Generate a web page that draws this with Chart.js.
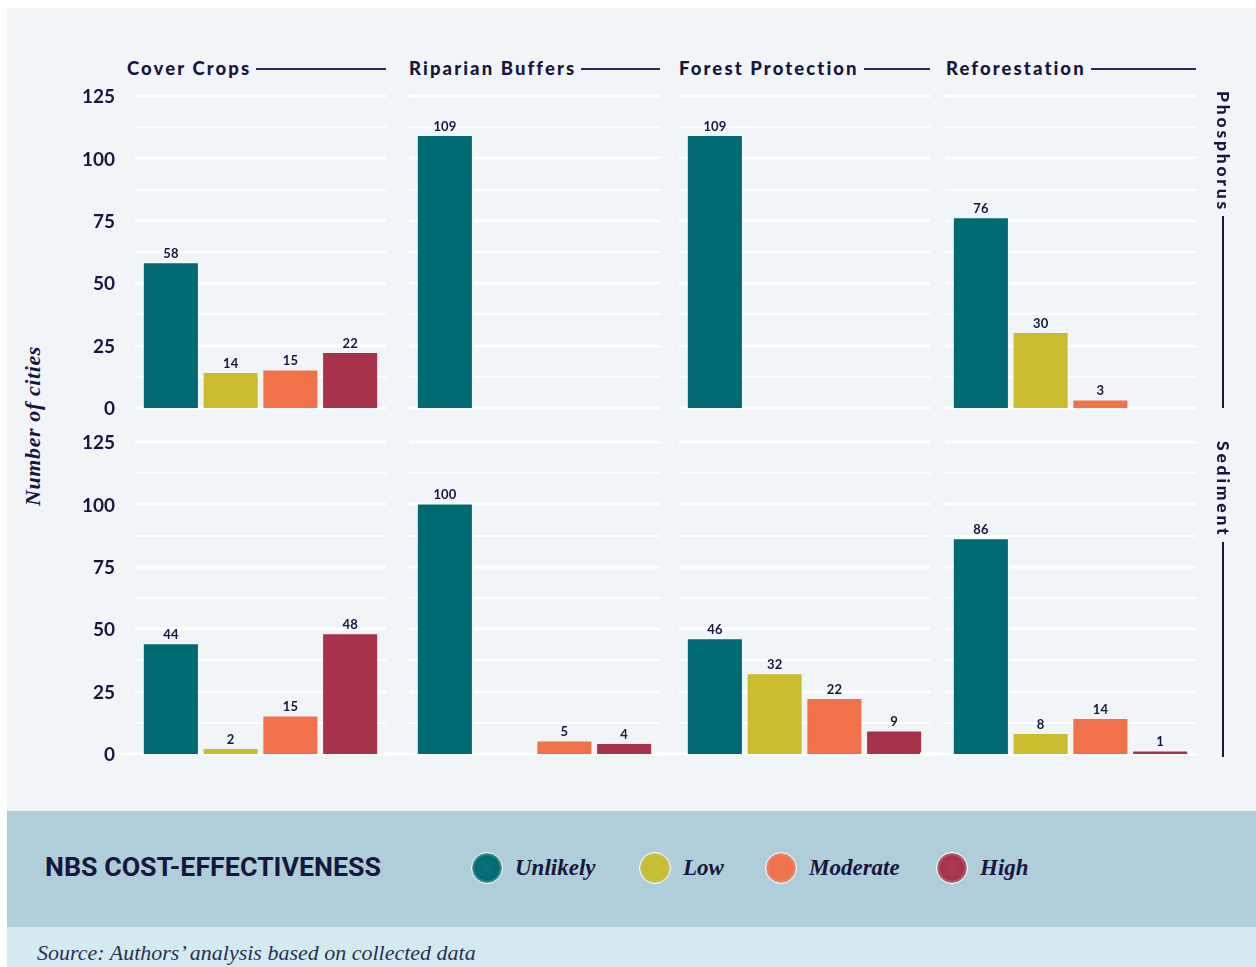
<!DOCTYPE html>
<html>
<head>
<meta charset="utf-8">
<script src="https://cdn.jsdelivr.net/npm/chart.js@4.4.1/dist/chart.umd.min.js"></script>
<style>
  html, body { margin: 0; padding: 0; background: #ffffff; }
  body { width: 1256px; height: 967px; position: relative; overflow: hidden; font-family: Lato, sans-serif; }
  .plot-bg { position: absolute; left: 7px; top: 8px; width: 1249px; height: 803px; background: #f1f5f8; }
  .legend-band { position: absolute; left: 7px; top: 811px; width: 1249px; height: 116px; background: #b0cdda; }
  .source-band { position: absolute; left: 7px; top: 927px; width: 1249px; height: 40px; background: #d3ebef; }
  canvas { position: absolute; }
  .ptitle { position: absolute; display: flex; align-items: center; height: 24px;
    font: 900 18.5px Lato, sans-serif; letter-spacing: 2.1px; color: #16163f; white-space: nowrap; }
  .ptitle .rule { flex: 1; height: 0; border-top: 2px solid #2a2a55; margin-left: 5px; margin-top: 2px; }
  .rlabel { position: absolute; display: flex; flex-direction: column; align-items: center; width: 24px;
    font: 900 17.5px Lato, sans-serif; letter-spacing: 2.8px; color: #16163f; }
  .rlabel span { writing-mode: vertical-rl; }
  .rlabel .rule { flex: 1; width: 0; border-left: 2px solid #16163f; margin-top: 4px; }
  .ytitle { position: absolute; left: 33px; top: 426px; transform: translate(-50%, -50%) rotate(-90deg);
    font: italic 700 22px "Liberation Serif", serif; letter-spacing: 0.6px; color: #16163f; white-space: nowrap; }
  .ltitle { position: absolute; left: 45px; top: 852px; font: 700 26px Roboto, sans-serif; color: #16163f;
    transform: scaleX(1.03); transform-origin: left center; white-space: nowrap; }
  .litem { position: absolute; top: 852px; height: 32px; display: flex; align-items: center; }
  .dot { width: 30px; height: 30px; border-radius: 50%; border: 1.5px solid #ffffff; margin-right: 12px; }
  .litem span { font: italic 700 23px "Liberation Serif", serif; color: #16163f; }
  .source { position: absolute; left: 37px; top: 940px; font: italic 22px "Liberation Serif", serif; color: #2e2e52; white-space: nowrap; }
</style>
</head>
<body>
<div class="plot-bg"></div>
<div class="legend-band"></div>
<div class="source-band"></div>
<div class="ytitle">Number of cities</div>
<div id="wrap"></div>
<div class="ltitle">NBS COST-EFFECTIVENESS</div>
<div id="legend"></div>
<div class="source">Source: Authors’ analysis based on collected data</div>

<script>
// categories and data
const categories = ['Unlikely', 'Low', 'Moderate', 'High'];
const practices = ['Cover Crops', 'Riparian Buffers', 'Forest Protection', 'Reforestation'];
const pollutants = ['Phosphorus', 'Sediment'];
const phosphorus = [
    [58, 14, 15, 22],   // Cover Crops
    [109, 0, 0, 0],     // Riparian Buffers
    [109, 0, 0, 0],     // Forest Protection
    [76, 30, 3, 0]      // Reforestation
];
const sediment = [
    [44, 2, 15, 48],
    [100, 0, 5, 4],
    [46, 32, 22, 9],
    [86, 8, 14, 1]
];
const yTicks = [0, 25, 50, 75, 100, 125];
const colors = ['#006a73', '#c9bd2f', '#f1714a', '#a8324c'];

const NAVY = '#16163f';
const areaLeft = [141, 415, 685, 951];
const areaW = 239;
const areaTop = [96, 442];
const areaH = 312;
const titleLeft = [127, 409, 679, 946];

// horizontal grid drawn from the y scale, a bit wider than the bar area
const extGrid = {
    id: 'extGrid',
    beforeDatasetsDraw(chart, args, opts) {
        const { ctx, chartArea, scales } = chart;
        const y = scales.y;
        ctx.save();
        ctx.strokeStyle = '#ffffff';
        for (let v = 0; v <= 125; v += 12.5) {
            const py = Math.round(y.getPixelForValue(v));
            ctx.lineWidth = (v % 25 === 0) ? 3 : 2;
            const x0 = chartArea.left - 6 - (v === 0 ? opts.zeroExt : 0);
            ctx.beginPath();
            ctx.moveTo(x0, py);
            ctx.lineTo(chartArea.right + 6, py);
            ctx.stroke();
        }
        // tick labels on the first column only
        if (opts.labels) {
            ctx.font = '700 19px Lato, sans-serif';
            ctx.fillStyle = NAVY;
            ctx.textAlign = 'right';
            ctx.textBaseline = 'middle';
            yTicks.forEach(v => {
                ctx.fillText(String(v), chartArea.left - 26, y.getPixelForValue(v) + 1);
            });
        }
        ctx.restore();
    }
};

const barLabels = {
    id: 'barLabels',
    afterDatasetsDraw(chart) {
        const { ctx } = chart;
        const ds = chart.data.datasets[0];
        const meta = chart.getDatasetMeta(0);
        ctx.save();
        ctx.font = '700 13px Lato, sans-serif';
        ctx.fillStyle = NAVY;
        ctx.textAlign = 'center';
        ctx.textBaseline = 'bottom';
        meta.data.forEach((bar, i) => {
            if (ds.data[i] > 0) ctx.fillText(ds.data[i], bar.x, bar.y - 3);
        });
        ctx.restore();
    }
};

function makePanel(row, col, values) {
    const yw = col === 0 ? 81 : 40;
    const padR = 12, padT = 16, padB = 12;
    const canvas = document.createElement('canvas');
    const w = yw + areaW + padR;
    const h = padT + areaH + padB;
    canvas.width = w;
    canvas.height = h;
    canvas.style.left = (areaLeft[col] - yw) + 'px';
    canvas.style.top = (areaTop[row] - padT) + 'px';
    canvas.style.width = w + 'px';
    canvas.style.height = h + 'px';
    document.getElementById('wrap').appendChild(canvas);

    new Chart(canvas, {
        type: 'bar',
        data: {
            labels: categories,
            datasets: [{
                data: values,
                backgroundColor: colors,
                barPercentage: 0.905,
                categoryPercentage: 1
            }]
        },
        options: {
            responsive: false,
            animation: false,
            devicePixelRatio: 1,
            layout: { padding: { top: padT, bottom: padB, right: padR, left: 0 } },
            plugins: {
                legend: { display: false },
                tooltip: { enabled: false },
                extGrid: { zeroExt: row === 1 ? 25 : 0, labels: col === 0 }
            },
            scales: {
                x: { display: false },
                y: {
                    min: 0,
                    max: 125,
                    afterBuildTicks: s => { s.ticks = yTicks.map(v => ({ value: v })); },
                    afterFit: s => { s.width = yw; },
                    grid: { display: false, drawTicks: false },
                    border: { display: false },
                    ticks: { display: false }
                }
            }
        },
        plugins: [extGrid, barLabels]
    });
}

// panel titles
practices.forEach((p, c) => {
    const t = document.createElement('div');
    t.className = 'ptitle';
    t.style.left = titleLeft[c] + 'px';
    t.style.top = '56px';
    t.style.width = (areaLeft[c] + areaW + 6 - titleLeft[c]) + 'px';
    t.innerHTML = '<span>' + p + '</span><div class="rule"></div>';
    document.body.appendChild(t);
});

// row labels on the right
const rTop = [91, 441];
const rBottom = [408, 757];
pollutants.forEach((p, r) => {
    const d = document.createElement('div');
    d.className = 'rlabel';
    d.style.left = '1211px';
    d.style.top = rTop[r] + 'px';
    d.style.height = (rBottom[r] - rTop[r]) + 'px';
    d.innerHTML = '<span>' + p + '</span><div class="rule"></div>';
    document.body.appendChild(d);
});

[phosphorus, sediment].forEach((rows, r) => {
    rows.forEach((vals, c) => makePanel(r, c, vals));
});

// legend
const legendX = [471, 639, 765, 936];
const legend = document.getElementById('legend');
categories.forEach((cat, i) => {
    const it = document.createElement('div');
    it.className = 'litem';
    it.style.left = legendX[i] + 'px';
    const c = colors[i];
    it.innerHTML = '<div class="dot" style="background: radial-gradient(circle, ' + c + 'ee 0%, ' + c +
        ' 55%, ' + c + '99 68%, ' + c + '77 100%);"></div><span>' + cat + '</span>';
    legend.appendChild(it);
});
</script>
</body>
</html>
